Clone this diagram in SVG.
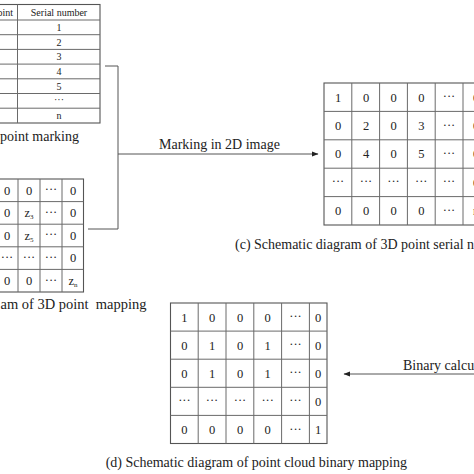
<svg xmlns="http://www.w3.org/2000/svg" width="474" height="474" viewBox="0 0 474 474">
<style>
text{font-family:"Liberation Serif","DejaVu Serif",serif;fill:#222}
.c{text-anchor:middle}
.t{font-size:10px}
.m{font-size:12.5px}
.cap{font-size:14px}
.grid{stroke:#6a6a6a;stroke-width:1;fill:none}
.out{stroke:#555;stroke-width:1.1;fill:none}
.conn{stroke:#555;stroke-width:1;fill:none}
</style>
<defs>
<marker id="ah" markerWidth="7" markerHeight="6" refX="6" refY="3" orient="auto" markerUnits="userSpaceOnUse">
<path d="M0,0.5 L6.5,3 L0,5.5 Z" fill="#222"/>
</marker>
</defs>
<rect width="474" height="474" fill="#fff"/>

<g id="table-point-serial">
<rect class="out" x="-5" y="4.5" width="105" height="118.5"/>
<path class="grid" d="M17.5,4.5V123 M-5,20H100 M-5,34.7H100 M-5,49.4H100 M-5,64.1H100 M-5,78.8H100 M-5,93.5H100 M-5,108.2H100"/>
<text class="t" x="13" y="16" text-anchor="end">oint</text>
<text class="t c" x="59" y="16">Serial number</text>
<text class="t c" x="59" y="31">1</text>
<text class="t c" x="59" y="45.5">2</text>
<text class="t c" x="59" y="60.2">3</text>
<text class="t c" x="59" y="75">4</text>
<text class="t c" x="59" y="89.7">5</text>
<text class="t c" x="59" y="103">···</text>
<text class="t c" x="59" y="119">n</text>
<text class="cap" x="79" y="141" text-anchor="end">point marking</text>
</g>

<g id="matrix-3d-mapping">
<rect class="out" x="-4" y="179" width="87.5" height="113"/>
<path class="grid" d="M18,179V292 M40,179V292 M62,179V292 M-4,201.6H83.5 M-4,224.2H83.5 M-4,246.8H83.5 M-4,269.4H83.5"/>
<g class="m">
<text class="c" x="7" y="194.5">0</text><text class="c" x="29" y="194.5">0</text><text class="c" x="51" y="193">···</text><text class="c" x="73" y="194.5">0</text>
<text class="c" x="7" y="217">0</text><text class="c" x="29" y="217">z<tspan font-size="7" dy="2">3</tspan></text><text class="c" x="51" y="215.5">···</text><text class="c" x="73" y="217">0</text>
<text class="c" x="7" y="239.6">0</text><text class="c" x="29" y="239.6">z<tspan font-size="7" dy="2">5</tspan></text><text class="c" x="51" y="238">···</text><text class="c" x="73" y="239.6">0</text>
<text class="c" x="7" y="260.5">···</text><text class="c" x="29" y="260.5">···</text><text class="c" x="51" y="260.5">···</text><text class="c" x="73" y="262">0</text>
<text class="c" x="7" y="285">0</text><text class="c" x="29" y="285">0</text><text class="c" x="51" y="283.5">···</text><text class="c" x="73" y="285">z<tspan font-size="7" dy="2">n</tspan></text>
</g>
<text class="cap" x="0.5" y="309" textLength="146" lengthAdjust="spacingAndGlyphs">am of 3D point&#160; mapping</text>
</g>

<g id="matrix-serial">
<rect class="out" x="324" y="83" width="167" height="142"/>
<path class="grid" d="M351.8,83V225 M379.6,83V225 M407.4,83V225 M435.2,83V225 M463,83V225 M324,111.4H491 M324,139.8H491 M324,168.2H491 M324,196.6H491"/>
<g class="m">
<text class="c" x="338" y="101.5">1</text><text class="c" x="366" y="101.5">0</text><text class="c" x="393.5" y="101.5">0</text><text class="c" x="421.3" y="101.5">0</text><text class="c" x="449" y="100">···</text><text class="c" x="476" y="101.5">0</text>
<text class="c" x="338" y="130">0</text><text class="c" x="366" y="130">2</text><text class="c" x="393.5" y="130">0</text><text class="c" x="421.3" y="130">3</text><text class="c" x="449" y="128.5">···</text><text class="c" x="476" y="130">0</text>
<text class="c" x="338" y="158.3">0</text><text class="c" x="366" y="158.3">4</text><text class="c" x="393.5" y="158.3">0</text><text class="c" x="421.3" y="158.3">5</text><text class="c" x="449" y="157">···</text><text class="c" x="476" y="158.3">0</text>
<text class="c" x="338" y="185">···</text><text class="c" x="366" y="185">···</text><text class="c" x="393.5" y="185">···</text><text class="c" x="421.3" y="185">···</text><text class="c" x="449" y="185">···</text><text class="c" x="476" y="186.7">0</text>
<text class="c" x="338" y="215">0</text><text class="c" x="366" y="215">0</text><text class="c" x="393.5" y="215">0</text><text class="c" x="421.3" y="215">0</text><text class="c" x="449" y="213.5">···</text><text class="c" x="476" y="215">n</text>
</g>
<text class="cap" x="235" y="249">(c) Schematic diagram of 3D point serial n</text>
</g>

<g id="matrix-binary">
<rect class="out" x="170.5" y="303" width="156.5" height="140.5"/>
<path class="grid" d="M198.2,303V443.5 M226,303V443.5 M253.8,303V443.5 M281.6,303V443.5 M309.4,303V443.5 M170.5,331.1H327 M170.5,359.2H327 M170.5,387.3H327 M170.5,415.4H327"/>
<g class="m">
<text class="c" x="184.4" y="321.5">1</text><text class="c" x="212" y="321.5">0</text><text class="c" x="240" y="321.5">0</text><text class="c" x="267.7" y="321.5">0</text><text class="c" x="295.5" y="320">···</text><text class="c" x="318.2" y="321.5">0</text>
<text class="c" x="184.4" y="349.6">0</text><text class="c" x="212" y="349.6">1</text><text class="c" x="240" y="349.6">0</text><text class="c" x="267.7" y="349.6">1</text><text class="c" x="295.5" y="348">···</text><text class="c" x="318.2" y="349.6">0</text>
<text class="c" x="184.4" y="377.7">0</text><text class="c" x="212" y="377.7">1</text><text class="c" x="240" y="377.7">0</text><text class="c" x="267.7" y="377.7">1</text><text class="c" x="295.5" y="376">···</text><text class="c" x="318.2" y="377.7">0</text>
<text class="c" x="184.4" y="404">···</text><text class="c" x="212" y="404">···</text><text class="c" x="240" y="404">···</text><text class="c" x="267.7" y="404">···</text><text class="c" x="295.5" y="404">···</text><text class="c" x="318.2" y="405.8">0</text>
<text class="c" x="184.4" y="434">0</text><text class="c" x="212" y="434">0</text><text class="c" x="240" y="434">0</text><text class="c" x="267.7" y="434">0</text><text class="c" x="295.5" y="432.5">···</text><text class="c" x="318.2" y="434">1</text>
</g>
<text class="cap" x="407" y="467" text-anchor="end">(d) Schematic diagram of point cloud binary mapping</text>
</g>

<g id="connectors">
<path class="conn" d="M105,66H118V229H88"/>
<path class="conn" d="M118,154H318" marker-end="url(#ah)"/>
<text class="cap" x="159" y="149">Marking in 2D image</text>
<path class="conn" d="M480,374H344" marker-end="url(#ah)"/>
<text class="cap" x="403" y="370">Binary calcu</text>
</g>
</svg>
